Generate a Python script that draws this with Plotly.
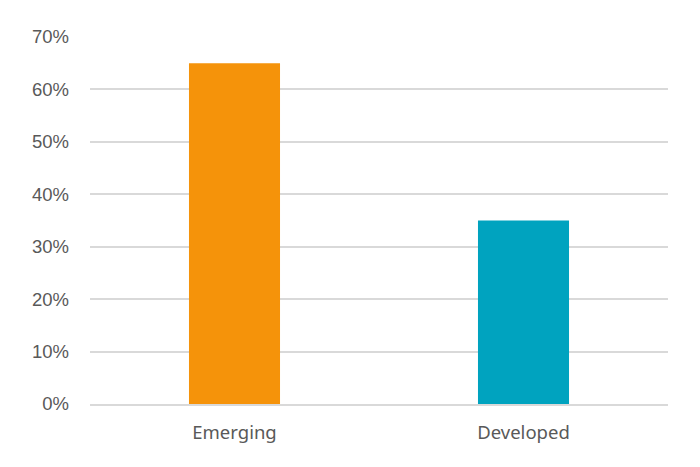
import plotly.graph_objects as go

# data
categories = ['Emerging', 'Developed']
shares = [0.65, 0.35]
bar_colors = ['#F5930A', '#00A3BF']
y_ticks = [0, 0.1, 0.2, 0.3, 0.4, 0.5, 0.6, 0.7]

fig = go.Figure()
fig.add_trace(go.Bar(
    x=categories, y=shares,
    marker=dict(color=bar_colors, line=dict(width=0)),
    width=0.315,
    hoverinfo='skip',
))

# page body adds an 8px offset, margins compensate
fig.update_layout(
    width=700, height=467,
    margin=dict(l=82, r=40, t=29, b=71),
    paper_bgcolor='white', plot_bgcolor='white',
    showlegend=False,
    xaxis=dict(
        showgrid=False, showline=True, linecolor='#D9D9D9', linewidth=1.5,
        ticks='', tickfont=dict(family='Noto Sans', size=18.5, color='#595959'),
        ticklabelstandoff=11,
    ),
    yaxis=dict(
        range=[0, 0.7], tickvals=y_ticks, tickformat='.0%',
        showgrid=True, gridcolor='#D9D9D9', gridwidth=1.5,
        zeroline=False, showline=False, ticks='',
        tickfont=dict(family='Liberation Sans', size=18.5, color='#595959'),
        ticklabelstandoff=20,
    ),
)

fig.write_html("out.html")
